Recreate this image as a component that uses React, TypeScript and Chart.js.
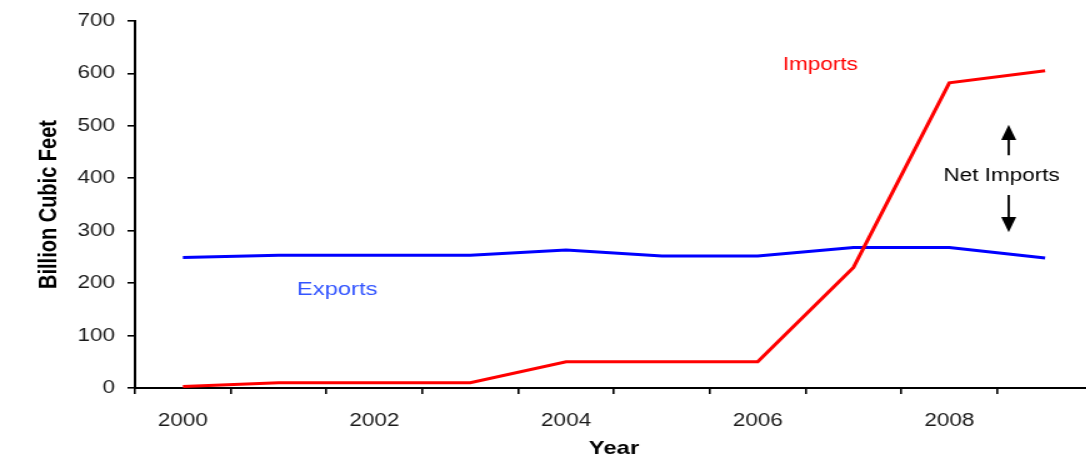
import React, { useEffect, useRef } from 'react';
import { Chart, registerables } from 'chart.js';

Chart.register(...registerables);

// ---- data ----
const years = ['2000', '2001', '2002', '2003', '2004', '2005', '2006', '2007', '2008', '2009'];
const importsValues = [3, 10, 10, 10, 50, 50, 50, 230, 582, 605];
const exportsValues = [249, 253, 253, 253, 263, 252, 252, 268, 268, 248];
const yTickValues = [0, 100, 200, 300, 400, 500, 600, 700];
const xTickLabels = ['2000', '2002', '2004', '2006', '2008'];

// ---- layout / style ----
const SX = 1.25;
const BASE_W = 890;
const BASE_H = 470;
const FONT = '"Liberation Sans", Arial, sans-serif';

// annotation anchors in data units (x = category index, y = value)
const ANNOT = {
  imports: { x: 6.655, y: 606 },
  exports: { x: 1.61, y: 177 },
  net: { x: 8.546, y: 395 },
  arrowX: 8.62,
  upTip: 502, upHeadBase: 473, upEnd: 444,
  downStart: 368, downHeadBase: 326, downTip: 297,
};

const annotationPlugin = {
  id: 'annotations',
  afterDatasetsDraw(chart: any) {
    const { ctx } = chart;
    const x = chart.scales.x;
    const y = chart.scales.y;
    ctx.save();
    ctx.textAlign = 'center';
    ctx.textBaseline = 'alphabetic';
    ctx.font = `18px ${FONT}`;
    ctx.fillStyle = '#ff0000';
    ctx.fillText('Imports', x.getPixelForValue(ANNOT.imports.x), y.getPixelForValue(ANNOT.imports.y));
    ctx.font = `19px ${FONT}`;
    ctx.fillStyle = '#3355ff';
    ctx.fillText('Exports', x.getPixelForValue(ANNOT.exports.x), y.getPixelForValue(ANNOT.exports.y));
    ctx.font = `18px ${FONT}`;
    ctx.fillStyle = '#000000';
    ctx.fillText('Net Imports', x.getPixelForValue(ANNOT.net.x), y.getPixelForValue(ANNOT.net.y));

    const ax = x.getPixelForValue(ANNOT.arrowX);
    const hw = 6;
    ctx.strokeStyle = '#000';
    ctx.lineWidth = 1.8;
    ctx.beginPath();
    ctx.moveTo(ax, y.getPixelForValue(ANNOT.upHeadBase));
    ctx.lineTo(ax, y.getPixelForValue(ANNOT.upEnd));
    ctx.moveTo(ax, y.getPixelForValue(ANNOT.downStart));
    ctx.lineTo(ax, y.getPixelForValue(ANNOT.downHeadBase));
    ctx.stroke();
    ctx.fillStyle = '#000';
    ctx.beginPath();
    ctx.moveTo(ax, y.getPixelForValue(ANNOT.upTip));
    ctx.lineTo(ax - hw, y.getPixelForValue(ANNOT.upHeadBase));
    ctx.lineTo(ax + hw, y.getPixelForValue(ANNOT.upHeadBase));
    ctx.closePath();
    ctx.fill();
    ctx.beginPath();
    ctx.moveTo(ax, y.getPixelForValue(ANNOT.downTip));
    ctx.lineTo(ax - hw, y.getPixelForValue(ANNOT.downHeadBase));
    ctx.lineTo(ax + hw, y.getPixelForValue(ANNOT.downHeadBase));
    ctx.closePath();
    ctx.fill();
    ctx.restore();
  },
};

export default function App() {
  const ref = useRef<HTMLCanvasElement | null>(null);

  useEffect(() => {
    if (!ref.current) return;
    const chart = new Chart(ref.current, {
      type: 'line',
      data: {
        labels: years,
        datasets: [
          {
            label: 'Imports',
            data: importsValues,
            borderColor: '#ff0000',
            backgroundColor: '#ff0000',
            borderWidth: 3,
            pointRadius: 0,
            tension: 0,
          },
          {
            label: 'Exports',
            data: exportsValues,
            borderColor: '#0000ff',
            backgroundColor: '#0000ff',
            borderWidth: 3,
            pointRadius: 0,
            tension: 0,
          },
        ],
      },
      options: {
        responsive: false,
        animation: false,
        devicePixelRatio: 1,
        layout: { padding: { top: 21, right: 15.6, bottom: 0, left: 0 } },
        plugins: {
          legend: { display: false },
          tooltip: { enabled: false },
        },
        scales: {
          x: {
            type: 'category',
            offset: true,
            grid: {
              offset: true,
              drawOnChartArea: false,
              drawTicks: true,
              tickLength: 6,
              color: '#000',
              lineWidth: 1.6,
            },
            border: { display: true, color: '#000', width: 2 },
            ticks: {
              autoSkip: false,
              maxRotation: 0,
              padding: 16,
              color: '#1a1a1a',
              font: { family: FONT, size: 18 },
              callback: (_v: any, i: number) => (xTickLabels.includes(years[i]) ? years[i] : ''),
            },
            title: {
              display: true,
              text: 'Year',
              color: '#000',
              font: { family: FONT, size: 19, weight: 'bold' },
              padding: { top: 0, bottom: 10 },
            },
            afterFit: (s: any) => {
              s.height = BASE_H - 388;
            },
          },
          y: {
            min: 0,
            max: 700,
            afterBuildTicks: (s: any) => {
              s.ticks = yTickValues.map((v) => ({ value: v }));
            },
            grid: {
              drawOnChartArea: false,
              drawTicks: true,
              tickLength: 6,
              color: '#000',
              lineWidth: 1.6,
            },
            border: { display: true, color: '#000', width: 2 },
            ticks: {
              padding: 10,
              color: '#1a1a1a',
              font: { family: FONT, size: 18 },
            },
            title: {
              display: true,
              text: 'Billion Cubic Feet',
              color: '#000',
              font: { family: FONT, size: 20, weight: 'bold' },
              padding: { top: 27, bottom: 0 },
            },
            afterFit: (s: any) => {
              s.width = 108;
            },
          },
        },
      },
      plugins: [annotationPlugin],
    } as any);
    return () => chart.destroy();
  }, []);

  return (
    <div
      style={{
        position: 'absolute',
        left: 0,
        top: 0,
        width: 1086,
        height: 456,
        overflow: 'hidden',
        background: '#fff',
      }}
    >
      <div style={{ transform: `scaleX(${SX})`, transformOrigin: '0 0', width: BASE_W, height: BASE_H }}>
        <canvas
          ref={ref}
          width={BASE_W}
          height={BASE_H}
          style={{ display: 'block', width: BASE_W, height: BASE_H }}
        />
      </div>
    </div>
  );
}
